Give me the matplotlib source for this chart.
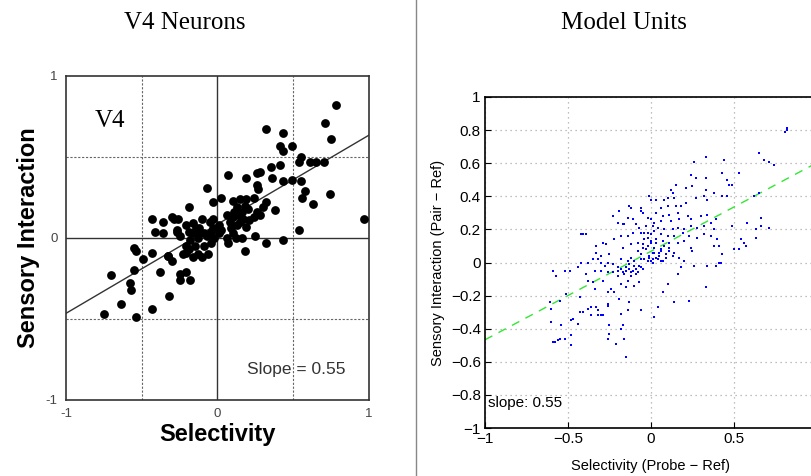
import matplotlib
matplotlib.use("Agg")
import matplotlib.pyplot as plt
import numpy as np

# V4 neurons (left panel)
v4_sel = [0.78, 0.71, 0.75, 0.32, 0.43, 0.41, 0.43, 0.49, 0.55, 0.54, 0.61, 0.65, 0.70,
          0.35, 0.41, 0.28, 0.26, 0.36, 0.19, 0.07, 0.43, 0.49, 0.55, 0.26, 0.27, 0.58,
          0.56, 0.63, 0.74, -0.07, -0.03, 0.02, -0.19, 0.10, 0.15, 0.19, 0.24, 0.32, 0.30,
          0.38, 0.13, 0.16, 0.20, 0.24, 0.28, 0.10, 0.06, 0.08, 0.13, 0.19, 0.17, 0.97,
          0.54, -0.43, -0.36, -0.30, -0.26, -0.41, -0.36, -0.27, -0.21, -0.16, -0.10,
          -0.05, 0.01, -0.25, -0.19, -0.14, -0.09, -0.04, 0.01, 0.06, 0.12, 0.16, 0.25,
          0.10, -0.02, -0.07, -0.13, -0.18, -0.21, -0.15, -0.09, -0.04, 0.07, 0.32, 0.43,
          0.18, -0.55, -0.54, -0.43, -0.49, -0.33, -0.30, -0.23, -0.16, -0.10, -0.06,
          -0.19, -0.55, -0.38, -0.70, -0.25, -0.21, -0.25, -0.18, -0.58, -0.57, -0.32,
          -0.64, -0.43, -0.75, -0.54, -0.12, -0.17, -0.03, 0.02, 0.14, 0.18, 0.11, 0.21,
          0.26, 0.09, 0.15, -0.27, -0.33, -0.21, -0.13, -0.03, -0.13, -0.29]
v4_int = [0.82, 0.71, 0.61, 0.67, 0.65, 0.57, 0.54, 0.57, 0.50, 0.47, 0.47, 0.47, 0.47,
          0.44, 0.45, 0.41, 0.40, 0.37, 0.37, 0.39, 0.35, 0.36, 0.35, 0.33, 0.30, 0.29,
          0.25, 0.21, 0.27, 0.31, 0.22, 0.25, 0.19, 0.23, 0.24, 0.24, 0.25, 0.22, 0.19,
          0.17, 0.19, 0.16, 0.18, 0.13, 0.14, 0.13, 0.14, 0.10, 0.08, 0.07, 0.12, 0.12,
          0.05, 0.12, 0.10, 0.13, 0.12, 0.04, 0.03, 0.05, 0.08, 0.09, 0.12,
          0.10, 0.08, 0.01, 0.04, 0.06, 0.03, 0.04, 0.03, 0.00, 0.00, 0.00, 0.01,
          0.03, 0.00, 0.01, 0.00, -0.01, -0.05, -0.05, -0.05, -0.03, -0.03, -0.03, -0.01,
          -0.08, -0.06, -0.08, -0.09, -0.13, -0.11, -0.14, -0.10, -0.12, -0.12, -0.10,
          -0.07, -0.20, -0.21, -0.23, -0.22, -0.21, -0.26, -0.26, -0.28, -0.32, -0.36,
          -0.41, -0.44, -0.47, -0.49, 0.06, 0.03, 0.06, 0.05, 0.14, 0.20, 0.16, 0.11,
          0.16, 0.06, 0.10, 0.04, -0.11, -0.09, -0.10, 0.12, 0.03, 0.12]

# model units (right panel)
mu_sel = [0.81, 0.82, 0.82, 0.65, 0.68, 0.71, 0.74, 0.33, 0.44, 0.26, 0.53, 0.43, 0.33,
          0.27, 0.24, 0.46, 0.47, 0.49, 0.15, 0.25, 0.21, 0.12, 0.13, 0.62, 0.65, 0.33,
          0.38, 0.46, 0.43, 0.32, 0.27, 0.34, 0.10, 0.08, 0.14, -0.01, 0.00, 0.03, 0.21,
          0.18, 0.15, 0.10, 0.06, -0.06, -0.12, -0.13, -0.06, -0.19, -0.23, -0.14, -0.17,
          -0.20, -0.11, -0.09, -0.05, -0.02, 0.03, 0.07, 0.11, 0.16, 0.22, 0.24, 0.17,
          0.12, 0.06, 0.02, 0.00, 0.30, 0.34, 0.39, 0.49, 0.58, 0.66, 0.63, 0.66, 0.71,
          0.36, 0.38, 0.32, 0.28, 0.24, 0.20, 0.16, 0.13, 0.08, 0.04, 0.01, -0.03, -0.07,
          -0.16, -0.41, -0.39, -0.42, -0.29, -0.27, -0.33, -0.22, -0.18, -0.14, -0.11,
          -0.06, -0.02, 0.02, 0.06, 0.10, 0.14, 0.19, 0.23, 0.28, 0.32, 0.36, 0.40, 0.54,
          0.56, 0.57, 0.63, 0.38, 0.41, 0.50, 0.53, 0.43, 0.24, 0.25, 0.20, 0.16, 0.11,
          0.07, 0.03, 0.00, -0.04, -0.08, -0.12, -0.17, -0.08, -0.05, -0.02, 0.02, 0.06,
          0.11, 0.14, 0.09, 0.05, 0.01, -0.01, 0.01, 0.00, 0.03, 0.06, -0.02, 0.17, 0.20,
          0.26, 0.34, 0.39, 0.41, 0.42, 0.18, 0.16, 0.10, 0.07, 0.14, 0.23, 0.33, 0.04,
          0.02, -0.06, -0.15, -0.16, -0.17, -0.18, -0.21, -0.25, -0.25, -0.26, -0.18,
          -0.14, -0.13, -0.19, -0.22, -0.26, -0.24, -0.26, -0.26, -0.29, -0.30, -0.32,
          -0.36, -0.32, -0.36, -0.33, -0.38, -0.41, -0.43, -0.43, -0.35, -0.38, -0.34,
          -0.29, -0.18, -0.15, -0.10, -0.07, -0.14, -0.20, -0.23, -0.26, -0.30, -0.34,
          -0.39, -0.42, -0.44, -0.38, -0.35, -0.32, -0.30, -0.28, -0.26, -0.23, -0.20,
          -0.18, -0.15, -0.13, -0.11, -0.09, -0.07, -0.05, -0.16, -0.12, -0.09, -0.18,
          -0.14, -0.12, -0.10, -0.06, -0.33, -0.30, -0.25, -0.52, -0.49, -0.59, -0.57,
          -0.51, -0.55, -0.61, -0.60, -0.60, -0.54, -0.59, -0.58, -0.56, -0.55, -0.52,
          -0.48, -0.47, -0.48, -0.48, -0.44,
          -0.04, -0.02, -0.05, -0.03, 0.00, 0.02, -0.01, -0.04, 0.01, 0.04, 0.06, 0.08,
          0.03, 0.00, 0.05, 0.07, -0.06, 0.09, 0.11, 0.13,
          -0.15, -0.12, -0.10, -0.08, -0.17, -0.20, -0.13, -0.06]
mu_int = [0.79, 0.81, 0.80, 0.66, 0.62, 0.61, 0.59, 0.64, 0.62, 0.61, 0.54, 0.54, 0.51,
          0.51, 0.53, 0.50, 0.47, 0.47, 0.47, 0.46, 0.45, 0.44, 0.42, 0.40, 0.42, 0.44,
          0.42, 0.40, 0.40, 0.40, 0.39, 0.38, 0.39, 0.38, 0.39, 0.40, 0.38, 0.38, 0.36,
          0.34, 0.34, 0.34, 0.33, 0.33, 0.33, 0.34, 0.31, 0.31, 0.28, 0.27, 0.23,
          0.24, 0.26, 0.23, 0.30, 0.27, 0.30, 0.28, 0.29, 0.30, 0.28, 0.26, 0.26,
          0.25, 0.25, 0.24, 0.26, 0.28, 0.29, 0.26, 0.22, 0.24, 0.27, 0.20, 0.22, 0.21,
          0.24, 0.20, 0.22, 0.21, 0.22, 0.20, 0.21, 0.20, 0.20, 0.21, 0.22, 0.22, 0.21,
          0.23, 0.17, 0.17, 0.17, 0.12, 0.11, 0.10, 0.14, 0.16, 0.16, 0.18,
          0.18, 0.18, 0.19, 0.17, 0.16, 0.16, 0.18, 0.16, 0.15, 0.17, 0.16, 0.14, 0.14,
          0.12, 0.10, 0.15, 0.10, 0.10, 0.08, 0.08, 0.05, 0.09, 0.07, 0.13, 0.12, 0.12,
          0.13, 0.12, 0.13, 0.14, 0.12, 0.11, 0.09, 0.07, 0.09, 0.10, 0.09, 0.08,
          0.07, 0.06, 0.05, 0.06, 0.06, 0.04, 0.02, 0.01, 0.03, 0.01, 0.01, 0.03, 0.01,
          -0.02, -0.02, -0.02, 0.00, 0.00, -0.03, -0.07, -0.13, -0.18, -0.24, -0.23, -0.15, -0.27,
          -0.33, -0.29, -0.57, -0.46, -0.38, -0.40, -0.49, -0.43, -0.38, -0.46, -0.31,
          -0.29, -0.24, -0.22, -0.18, -0.18, -0.16, -0.26, -0.25, -0.32, -0.32, -0.32,
          -0.32, -0.29, -0.27, -0.27, -0.28, -0.30, -0.30, -0.21, -0.12, -0.11, -0.16,
          -0.11, -0.13, -0.15, -0.14, -0.12, -0.11, -0.08, -0.06, -0.06, -0.05, -0.05,
          -0.07, 0.00, -0.03, 0.00, 0.02, 0.02, 0.00, -0.02, 0.00, -0.01, -0.03,
          -0.04, -0.05, -0.04, -0.05, -0.04, -0.02, -0.04, -0.07, -0.08, -0.07, 0.02,
          0.01, 0.03, 0.01, 0.02, 0.06, 0.04, 0.05, -0.05, -0.05, -0.05, -0.08,
          -0.19, -0.23, -0.24, -0.28, -0.36, -0.38, -0.48, -0.48, -0.47, -0.46, -0.46,
          -0.35, -0.34, -0.44, -0.50, -0.37,
          0.18, 0.15, 0.11, 0.08, 0.12, 0.06, 0.03, 0.02, 0.00, 0.02, 0.07, 0.10,
          0.14, 0.17, 0.04, 0.01, 0.05, 0.03, 0.09, 0.04,
          -0.03, -0.06, -0.02, -0.06, -0.06, -0.05, -0.01, -0.03]

v4_fit = (0.55, 0.085)
mu_fit = (0.535, 0.068)
fit_x = [-1, 1]

fig = plt.figure(figsize=(8.12, 4.76), dpi=100)

# separator between the panels
fig.add_artist(plt.Line2D([416 / 812, 416 / 812], [0, 1], color="#888888", lw=1))
fig.text(0.228, 0.952, "V4 Neurons", family="Liberation Serif", fontsize=18, ha="center", va="center")
fig.text(0.769, 0.952, "Model Units", family="Liberation Serif", fontsize=18, ha="center", va="center")

# ---- left panel
ax1 = fig.add_axes([66 / 812, 1 - 400 / 476, 303 / 812, 324 / 476])
ax1.set_xlim(-1, 1)
ax1.set_ylim(-1, 1)
for v in (-0.5, 0.5):
    ax1.axvline(v, color="#666666", lw=0.8, ls=(0, (2, 1.5)))
    ax1.axhline(v, color="#666666", lw=0.8, ls=(0, (2, 1.5)))
ax1.axvline(0, color="#333333", lw=1)
ax1.axhline(0, color="#333333", lw=1)
ax1.scatter(v4_sel, v4_int, s=40, color="black", zorder=3, linewidths=0)
fx = np.array(fit_x)
ax1.plot(fx, v4_fit[0] * fx + v4_fit[1], color="#333333", lw=1, zorder=2)
ax1.set_xticks([-1, 0, 1])
ax1.set_yticks([-1, 0, 1])
ax1.set_xticklabels(["-1", "0", "1"], family="Liberation Sans", fontsize=9.5, color="#444444")
ax1.set_yticklabels(["-1", "0", "1"], family="Liberation Sans", fontsize=9.5, color="#444444")
ax1.tick_params(length=0, pad=6)
for s in ax1.spines.values():
    s.set_color("#333333")
    s.set_linewidth(1.2)
ax1.set_xlabel("Selectivity", family="Liberation Sans", fontweight="bold", fontsize=17, labelpad=2)
ax1.set_ylabel("Sensory Interaction", family="Liberation Sans", fontweight="bold", fontsize=17, labelpad=4)
ax1.text(-0.81, 0.72, "V4", family="Liberation Serif", fontsize=18, va="center")
ax1.text(0.52, -0.81, "Slope = 0.55", family="Liberation Sans", fontsize=12.5, ha="center", va="center",
         color="#333333")

# ---- right panel
ax2 = fig.add_axes([485 / 812, 1 - 428 / 476, 332 / 812, 331 / 476])
ax2.set_xlim(-1, 1)
ax2.set_ylim(-1, 1)
ax2.grid(True, color="#aaaaaa", ls=(0, (1, 3)), lw=0.9)
ax2.set_axisbelow(True)
ax2.plot(mu_sel, mu_int, "s", color="blue", ms=2.1, mew=0, zorder=3)
ax2.plot(fx, mu_fit[0] * fx + mu_fit[1], color="#33e633", lw=1, ls=(0, (6, 5)), zorder=2)
ax2.set_xticks([-1, -0.5, 0, 0.5, 1])
# the "1" label falls outside the picture in the original
ax2.set_xticklabels(["\u22121", "\u22120.5", "0", "0.5", ""])
yt = [-1, -0.8, -0.6, -0.4, -0.2, 0, 0.2, 0.4, 0.6, 0.8, 1]
ax2.set_yticks(yt)
ax2.set_yticklabels([("%g" % t).replace("-", "\u2212") for t in yt])
ax2.tick_params(direction="in", length=4, labelsize=11, pad=3)
for lab in ax2.get_xticklabels() + ax2.get_yticklabels():
    lab.set_family("Liberation Sans")
for s in ax2.spines.values():
    s.set_linewidth(1.2)
ax2.set_xlabel("Selectivity (Probe \u2212 Ref)", family="Liberation Sans", fontsize=10.5, labelpad=9)
ax2.set_ylabel("Sensory Interaction (Pair \u2212 Ref)", family="Liberation Sans", fontsize=10.5, labelpad=4)
ax2.text(-0.98, -0.85, "slope: 0.55", family="Liberation Sans", fontsize=11, va="center")

fig.savefig("out.png", dpi=100)
